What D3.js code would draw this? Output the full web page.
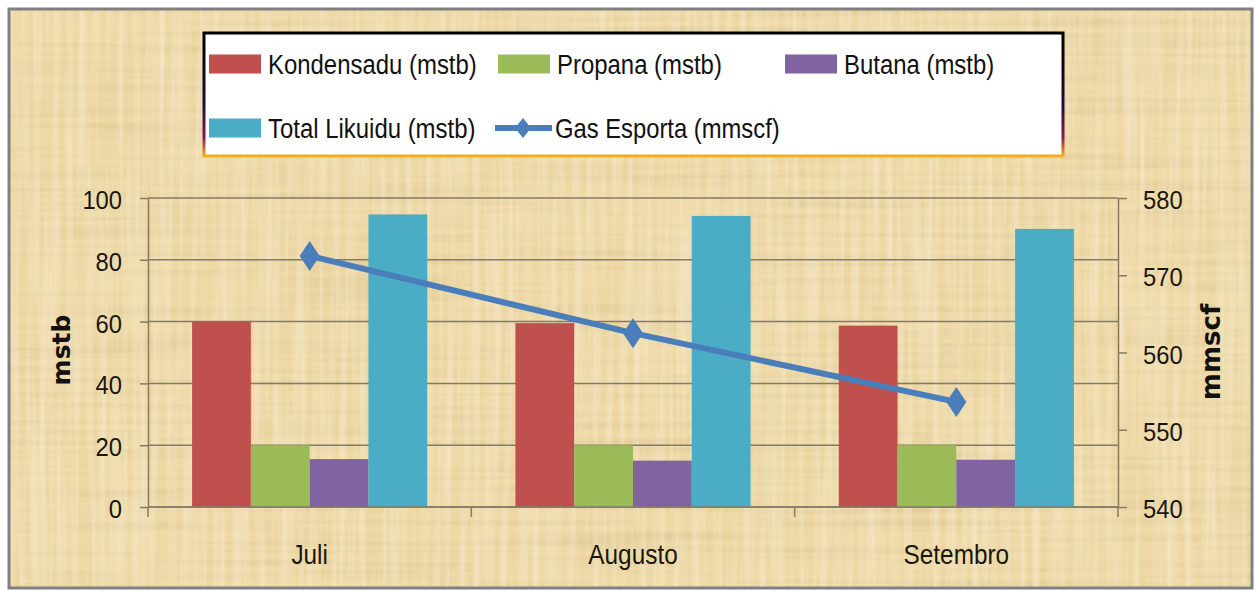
<!DOCTYPE html>
<html>
<head>
<meta charset="utf-8">
<script src="https://cdn.jsdelivr.net/npm/d3@7"></script>
<style>
  body { margin: 0; background: #fff; }
  svg { display: block; }
  .tick text { font-family: "Liberation Sans", Arial, sans-serif; fill: #1a1610; }
</style>
</head>
<body>
<div id="chart"></div>
<script>
var categories = ["Juli", "Augusto", "Setembro"];
var kondensadu = [60, 59.5, 58.7];
var propana = [20, 20, 20];
var butana = [15.5, 15, 15.3];
var totalLikuidu = [94.7, 94.2, 90];
var gasEsporta = [572.5, 562.5, 553.6];
var leftTicks = [0, 20, 40, 60, 80, 100];
var rightTicks = [540, 550, 560, 570, 580];

var seriesNames = ["Kondensadu (mstb)", "Propana (mstb)", "Butana (mstb)", "Total Likuidu (mstb)"];
var seriesValues = [kondensadu, propana, butana, totalLikuidu];
var colors = ["#c0504d", "#9bbb59", "#8064a2", "#4bacc6"];
var lineColor = "#4a7ebb";
var lineName = "Gas Esporta (mmscf)";

var W = 1257, H = 591;
var plot = { left: 148, right: 1118, top: 198, bottom: 507 };
var font = '"Liberation Sans", Arial, sans-serif';

// squeeze text horizontally around its own x position (original font is narrower)
function condense(k) {
    return function (sel) {
        sel.each(function () {
            var t = d3.select(this);
            var x0 = +t.attr("x") || 0;
            t.attr("x", 0).attr("transform", "translate(" + x0 + ",0) scale(" + k + ",1)");
        });
    };
}

var svg = d3.select("#chart").append("svg")
    .attr("width", W)
    .attr("height", H);

// papyrus-ish background
var defs = svg.append("defs");
var f = defs.append("filter").attr("id", "paper")
    .attr("x", 0).attr("y", 0).attr("width", "100%").attr("height", "100%");
f.append("feTurbulence").attr("type", "fractalNoise").attr("baseFrequency", "0.004 0.15")
    .attr("numOctaves", 2).attr("seed", 4).attr("result", "n1");
f.append("feColorMatrix").attr("in", "n1").attr("type", "matrix")
    .attr("values", "0 0 0 0 0.62  0 0 0 0 0.48  0 0 0 0 0.22  0.8 0 0 0 -0.33").attr("result", "d1");
f.append("feTurbulence").attr("type", "fractalNoise").attr("baseFrequency", "0.15 0.005")
    .attr("numOctaves", 2).attr("seed", 9).attr("result", "n2");
f.append("feColorMatrix").attr("in", "n2").attr("type", "matrix")
    .attr("values", "0 0 0 0 1  0 0 0 0 0.96  0 0 0 0 0.85  0.8 0 0 0 -0.3").attr("result", "d2");
f.append("feMerge").call(function (m) {
    m.append("feMergeNode").attr("in", "d1");
    m.append("feMergeNode").attr("in", "d2");
});

var lg = defs.append("linearGradient").attr("id", "legendEdge")
    .attr("x1", 0).attr("y1", 0).attr("x2", 0).attr("y2", 1);
lg.append("stop").attr("offset", "0%").attr("stop-color", "#000");
lg.append("stop").attr("offset", "60%").attr("stop-color", "#1a1040");
lg.append("stop").attr("offset", "85%").attr("stop-color", "#8a1850");
lg.append("stop").attr("offset", "100%").attr("stop-color", "#f4b020");

svg.append("rect")
    .attr("x", 9).attr("y", 9).attr("width", 1243).attr("height", 579)
    .attr("fill", "#eed9a6");
svg.append("rect")
    .attr("x", 9).attr("y", 9).attr("width", 1243).attr("height", 579)
    .attr("fill", "#fff")
    .attr("filter", "url(#paper)");
svg.append("rect")
    .attr("x", 9).attr("y", 9).attr("width", 1243).attr("height", 579)
    .attr("fill", "none").attr("stroke", "#808080").attr("stroke-width", 3);

// scales
var x = d3.scaleBand().domain(categories).range([plot.left, plot.right]);
var x1 = d3.scaleBand().domain(seriesNames).range([0, x.bandwidth()]).paddingOuter(0.75);
var y = d3.scaleLinear().domain([0, 100]).range([plot.bottom, plot.top]);
var yR = d3.scaleLinear().domain([540, 580]).range([plot.bottom, plot.top]);

var gridColor = "#857a64";

// gridlines
svg.append("g").selectAll("line")
    .data(leftTicks)
    .enter().append("line")
    .attr("x1", plot.left).attr("x2", plot.right)
    .attr("y1", function (d) { return y(d); })
    .attr("y2", function (d) { return y(d); })
    .attr("stroke", gridColor).attr("stroke-width", 1.5);

// bars
categories.forEach(function (c, ci) {
    svg.append("g")
        .attr("transform", "translate(" + x(c) + ",0)")
        .selectAll("rect")
        .data(seriesNames)
        .enter().append("rect")
        .attr("x", function (s) { return x1(s); })
        .attr("width", x1.bandwidth())
        .attr("y", function (s, si) { return y(seriesValues[si][ci]); })
        .attr("height", function (s, si) { return y(0) - y(seriesValues[si][ci]); })
        .attr("fill", function (s, si) { return colors[si]; });
});

// axes
var leftAxis = svg.append("g")
    .attr("transform", "translate(" + plot.left + ",0)")
    .call(d3.axisLeft(y).tickValues(leftTicks).tickSize(8).tickSizeOuter(0).tickPadding(18));
var rightAxis = svg.append("g")
    .attr("transform", "translate(" + plot.right + ",0)")
    .call(d3.axisRight(yR).tickValues(rightTicks).tickSize(9).tickSizeOuter(0).tickPadding(16));
[leftAxis, rightAxis].forEach(function (a) {
    a.select(".domain").attr("stroke", gridColor).attr("stroke-width", 1.5);
    a.selectAll(".tick line").attr("stroke", gridColor).attr("stroke-width", 1.5);
    a.selectAll(".tick text").attr("font-size", 25).attr("dy", "0.42em").call(condense(0.95));
});

var bottomAxis = svg.append("g")
    .attr("transform", "translate(0," + plot.bottom + ")")
    .call(d3.axisBottom(x).tickSize(0).tickPadding(37));
bottomAxis.select(".domain").remove();
bottomAxis.selectAll(".tick text").attr("font-size", 28).call(condense(0.87));

// category separators on the x axis
var bounds = categories.map(function (c) { return x(c); }).concat([x.range()[1]]);
svg.append("line")
    .attr("x1", plot.left).attr("x2", plot.right)
    .attr("y1", plot.bottom).attr("y2", plot.bottom)
    .attr("stroke", gridColor).attr("stroke-width", 1.5);
svg.append("g").selectAll("line")
    .data(bounds)
    .enter().append("line")
    .attr("x1", function (d) { return d; }).attr("x2", function (d) { return d; })
    .attr("y1", plot.bottom).attr("y2", plot.bottom + 10)
    .attr("stroke", gridColor).attr("stroke-width", 1.5);

// axis titles
svg.append("text")
    .attr("transform", "translate(70,350) rotate(-90)")
    .attr("text-anchor", "middle")
    .attr("font-family", '"DejaVu Sans", sans-serif')
    .attr("font-weight", "bold")
    .attr("font-size", 25)
    .attr("fill", "#111")
    .text("mstb");
svg.append("text")
    .attr("transform", "translate(1220,352) rotate(-90)")
    .attr("text-anchor", "middle")
    .attr("font-family", '"DejaVu Sans", sans-serif')
    .attr("font-weight", "bold")
    .attr("font-size", 26)
    .attr("fill", "#111")
    .text("mmscf");

// line series
var diamond = function (w, h) {
    return "M0," + (-h) + "L" + w + ",0L0," + h + "L" + (-w) + ",0Z";
};
var cx = function (c) { return x(c) + x.bandwidth() / 2; };
var line = d3.line()
    .x(function (d, i) { return cx(categories[i]); })
    .y(function (d) { return yR(d); });
svg.append("path")
    .datum(gasEsporta)
    .attr("d", line)
    .attr("fill", "none")
    .attr("stroke", lineColor)
    .attr("stroke-width", 6)
    .attr("stroke-linejoin", "round");
svg.append("g").selectAll("path")
    .data(gasEsporta)
    .enter().append("path")
    .attr("transform", function (d, i) { return "translate(" + cx(categories[i]) + "," + yR(d) + ")"; })
    .attr("d", diamond(10, 15))
    .attr("fill", lineColor);

// legend
var legend = svg.append("g");
legend.append("rect")
    .attr("x", 204).attr("y", 33).attr("width", 859).attr("height", 123)
    .attr("fill", "#fff")
    .attr("stroke", "url(#legendEdge)")
    .attr("stroke-width", 3);

var legendItems = [
    { name: seriesNames[0], color: colors[0], x: 209, row: 0 },
    { name: seriesNames[1], color: colors[1], x: 498, row: 0 },
    { name: seriesNames[2], color: colors[2], x: 785, row: 0 },
    { name: seriesNames[3], color: colors[3], x: 209, row: 1 }
];
var rowY = [64, 128];
legendItems.forEach(function (it) {
    legend.append("rect")
        .attr("x", it.x).attr("y", rowY[it.row] - 9.5)
        .attr("width", 52).attr("height", 19)
        .attr("fill", it.color);
    legend.append("text")
        .attr("x", it.x + 59).attr("y", rowY[it.row] + 10)
        .attr("font-family", font)
        .attr("font-size", 28)
        .attr("fill", "#111")
        .text(it.name)
        .call(condense(0.855));
});
legend.append("line")
    .attr("x1", 495).attr("x2", 552)
    .attr("y1", rowY[1]).attr("y2", rowY[1])
    .attr("stroke", lineColor).attr("stroke-width", 6);
legend.append("path")
    .attr("transform", "translate(523," + rowY[1] + ")")
    .attr("d", diamond(8, 10))
    .attr("fill", lineColor);
legend.append("text")
    .attr("x", 555).attr("y", rowY[1] + 10)
    .attr("font-family", font)
    .attr("font-size", 28)
    .attr("fill", "#111")
    .text(lineName)
    .call(condense(0.85));
</script>
</body>
</html>
